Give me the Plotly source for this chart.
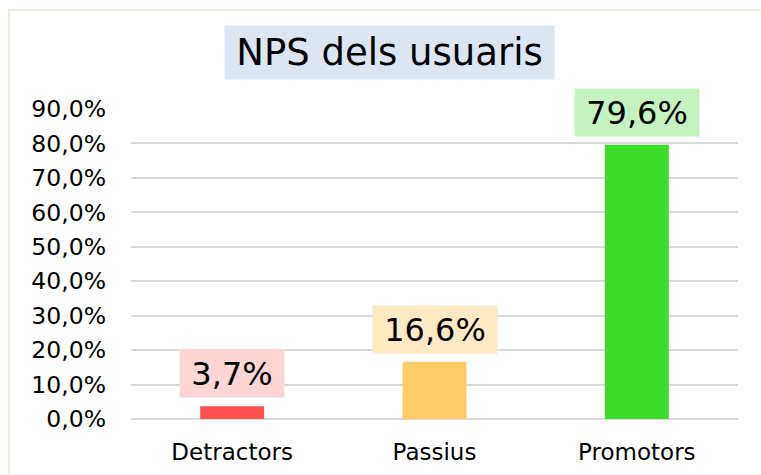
import plotly.graph_objects as go

# NPS breakdown of users (percent)
categories = ["Detractors", "Passius", "Promotors"]
values = [3.7, 16.6, 79.6]
bar_colors = ["#FF5050", "#FFCC66", "#3CDC2A"]
label_bg = ["#FFD5D5", "#FFEAC4", "#C4F3C0"]
label_widths = [84, 104, 104]
y_ticks = [0, 10, 20, 30, 40, 50, 60, 70, 80, 90]
y_tick_text = [f"{t:.1f}".replace(".", ",") + "%" for t in y_ticks]

W, H = 761, 475
L, R, T, B = 131, 23, 109, 56
plot_w = W - L - R
plot_h = H - T - B

font_family = "DejaVu Sans, Verdana, sans-serif"

fig = go.Figure(
    go.Bar(
        x=categories,
        y=values,
        marker=dict(color=bar_colors, line=dict(width=0)),
        width=0.316,
        hoverinfo="skip",
    )
)

# value labels with coloured backgrounds above each bar
for cat, v, bg, tw in zip(categories, values, label_bg, label_widths):
    fig.add_annotation(
        x=cat, y=v, xref="x", yref="y",
        text=f"{v:.1f}".replace(".", ",") + "%",
        showarrow=False,
        yanchor="bottom", xanchor="center",
        yshift=8,
        font=dict(family=font_family, size=32, color="#000000"),
        bgcolor=bg,
        width=tw + 14, height=41, borderpad=3,
    )

# chart title in a light blue box
fig.add_annotation(
    x=(389.5 - L) / plot_w, y=1 + (T - 52.5) / plot_h,
    xref="paper", yref="paper",
    text="NPS dels usuaris",
    showarrow=False,
    xanchor="center", yanchor="middle",
    font=dict(family=font_family, size=37, color="#000000"),
    bgcolor="#DCE6F2",
    width=323, height=47, borderpad=3,
)

# thin cream frame around the chart area
fig.add_shape(
    type="rect", xref="paper", yref="paper",
    x0=(9 - L) / plot_w, x1=(W + 20 - L) / plot_w,
    y0=-(B + 20) / plot_h, y1=1 + (T - 10) / plot_h,
    line=dict(color="#EFEEE2", width=2),
    fillcolor="rgba(0,0,0,0)",
    layer="below",
)

fig.update_layout(
    width=W, height=H,
    margin=dict(l=L, r=R, t=T, b=B, pad=0, autoexpand=False),
    paper_bgcolor="#FFFFFF",
    plot_bgcolor="#FFFFFF",
    showlegend=False,
    font=dict(family=font_family, color="#000000"),
    xaxis=dict(
        showgrid=False, showline=False, zeroline=False,
        tickfont=dict(size=23, color="#000000"),
        ticks="", ticklabelstandoff=17,
        automargin=False,
        fixedrange=True,
    ),
    yaxis=dict(
        range=[0, 90],
        tickmode="array",
        tickvals=y_ticks,
        ticktext=y_tick_text,
        showgrid=True, gridcolor="#D9D9D9", gridwidth=2,
        zeroline=True, zerolinecolor="#D9D9D9", zerolinewidth=2,
        showline=False,
        tickfont=dict(size=23.5, color="#000000"),
        ticks="", ticklabelstandoff=24,
        automargin=False,
        fixedrange=True,
    ),
)

fig.write_html("out.html")
